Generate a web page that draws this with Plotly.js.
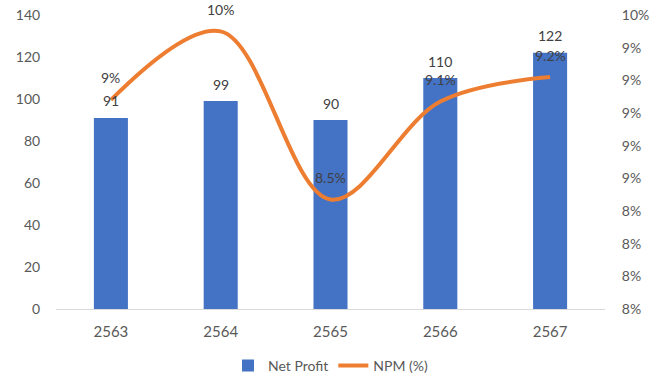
<!DOCTYPE html>
<html>
<head>
<meta charset="utf-8">
<script src="https://cdn.plot.ly/plotly-3.0.1.min.js"></script>
<style>html,body{margin:0;padding:0;background:#fff;}#chart{width:662px;height:376px;}</style>
</head>
<body>
<div id="chart"></div>
<script>
const years = ["2563", "2564", "2565", "2566", "2567"];
const netProfit = [91, 99, 90, 110, 122];
const npm = [9.08, 9.5, 8.47, 9.07, 9.22];
const npmLabels = ["9%", "10%", "8.5%", "9.1%", "9.2%"];
const profitLabels = netProfit.map(v => String(v));

const fontFam = "Lato, 'Liberation Sans', sans-serif";
const txtColor = "#595959";

const barTrace = {
  type: "bar", name: "Net Profit", x: years, y: netProfit,
  marker: {color: "#4472C4"}, width: 0.31, hoverinfo: "none"
};
const lineTrace = {
  type: "scatter", mode: "lines", name: "NPM (%)", x: years, y: npm, yaxis: "y2",
  line: {color: "#ED7D31", width: 4, shape: "spline", smoothing: 1}, hoverinfo: "none"
};

const annotations = [];
years.forEach((yr, i) => {
  annotations.push({x: i, y: netProfit[i], xref: "x", yref: "y", text: profitLabels[i],
    showarrow: false, yshift: 17, font: {family: fontFam, size: 14, color: "#404040"}});
  annotations.push({x: i, y: npm[i], xref: "x", yref: "y2", text: npmLabels[i],
    showarrow: false, yshift: 22, font: {family: fontFam, size: 14, color: "#404040"}});
});

const layout = {
  width: 662, height: 376,
  margin: {l: 56, r: 57, t: 15, b: 67, autoexpand: false},
  paper_bgcolor: "#fff", plot_bgcolor: "#fff",
  font: {family: fontFam, color: txtColor, size: 14},
  showlegend: true,
  legend: {orientation: "h", x: 0.5, xanchor: "center", yref: "container", y: 0.027, yanchor: "middle",
    font: {family: fontFam, size: 14, color: txtColor}},
  xaxis: {type: "category", categoryorder: "array", categoryarray: years, range: [-0.5, 4.5],
    showgrid: false, showline: true, linecolor: "#d9d9d9", linewidth: 1, automargin: false,
    ticks: "outside", ticklen: 9, tickcolor: "rgba(0,0,0,0)", tickfont: {size: 15, color: txtColor}, zeroline: false},
  yaxis: {range: [0, 140], dtick: 20, showgrid: false, zeroline: false, showline: false, automargin: false,
    ticks: "outside", ticklen: 12, tickcolor: "rgba(0,0,0,0)", tickfont: {size: 14, color: txtColor}},
  yaxis2: {overlaying: "y", side: "right", range: [7.8, 9.6], dtick: 0.2, tick0: 7.8, automargin: false,
    tickformat: ".0f", ticksuffix: "%", showgrid: false, zeroline: false, showline: false,
    ticks: "outside", ticklen: 13, tickcolor: "rgba(0,0,0,0)", tickfont: {size: 14, color: txtColor}},
  annotations: annotations
};

Plotly.newPlot("chart", [barTrace, lineTrace], layout, {displayModeBar: false, staticPlot: true});
</script>
</body>
</html>
